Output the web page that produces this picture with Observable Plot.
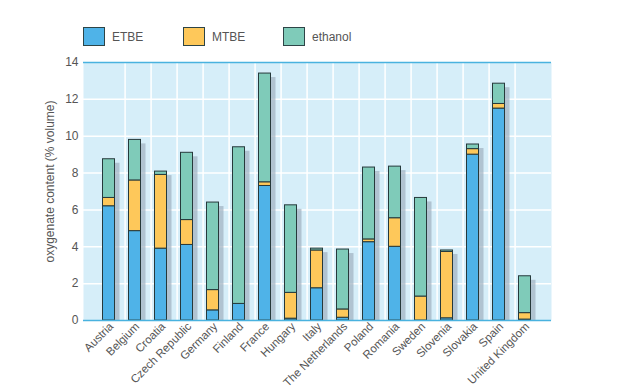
<!DOCTYPE html>
<html><head><meta charset="utf-8">
<script src="https://cdn.jsdelivr.net/npm/d3@7"></script>
<script src="https://cdn.jsdelivr.net/npm/@observablehq/plot@0.6"></script>
<style>
body{margin:0;background:#fff;font-family:"Liberation Sans",Arial,sans-serif;}
#legend{position:relative;height:52px;width:644px;}
.item{position:absolute;top:27px;height:19px;display:flex;align-items:center;font-size:12px;color:#555;}
.sw{width:22px;height:19px;border:1px solid #2d4446;margin-right:7px;box-sizing:border-box}
#chart svg{display:block;overflow:visible}
</style></head>
<body>
<div id="legend"></div>
<div id="chart"></div>
<script>
const countries = ["Austria","Belgium","Croatia","Czech Republic","Germany","Finland","France","Hungary","Italy","The Netherlands","Poland","Romania","Sweden","Slovenia","Slovakia","Spain","United Kingdom"];
const etbe    = [6.2, 4.85, 3.9, 4.1, 0.55, 0.9, 7.3, 0.1, 1.75, 0.15, 4.25, 4.0, 0.0, 0.12, 9.0, 11.5, 0.05];
const mtbe    = [0.45, 2.75, 4.0, 1.35, 1.1, 0.0, 0.2, 1.4, 2.05, 0.45, 0.15, 1.55, 1.3, 3.6, 0.3, 0.25, 0.35];
const ethanol = [2.1, 2.2, 0.18, 3.65, 4.75, 8.5, 5.9, 4.75, 0.1, 3.25, 3.9, 2.8, 5.35, 0.08, 0.25, 1.1, 2.0];
const seriesNames  = ["ETBE","MTBE","ethanol"];
const seriesColors = ["#4fb3e8","#fec85a","#7fcbb9"];
const yTicks = [0,2,4,6,8,10,12,14];
const yLabel = "oxygenate content (% volume)";

// legend
const legend = document.getElementById("legend");
seriesNames.forEach((name,i)=>{
  const it = document.createElement("div");
  it.className="item"; it.style.left=(83+i*100)+"px";
  const sw=document.createElement("span"); sw.className="sw"; sw.style.background=seriesColors[i];
  const tx=document.createElement("span"); tx.textContent=name;
  it.appendChild(sw); it.appendChild(tx); legend.appendChild(it);
});

const series = [etbe, mtbe, ethanol];
const rows = [];
countries.forEach((c,i)=>seriesNames.forEach((s,j)=>rows.push({country:c,type:s,value:series[j][i]})));
const totals = countries.map((c,i)=>({country:c,total:etbe[i]+mtbe[i]+ethanol[i]}));

const chart = Plot.plot({
  width:644, height:337,
  marginTop:10, marginBottom:69, marginLeft:83, marginRight:93,
  style:{fontFamily:"'Liberation Sans', Arial, sans-serif", fontSize:"12px", color:"#555", background:"white", overflow:"visible"},
  x:{domain:countries, padding:0.54, insetLeft:5, insetRight:2},
  y:{domain:[0,14]},
  color:{domain:seriesNames, range:seriesColors},
  marks:[
    Plot.frame({fill:"#d6eef9", stroke:null}),
    Plot.ruleY(yTicks.filter(t=>t>0&&t<14), {stroke:"white", strokeWidth:1.5}),
    Plot.ruleX(countries.slice(0,-1), {stroke:"white", strokeWidth:1.5, dx:13.6}),
    Plot.barY(totals, {x:"country", y:"total", fill:"#9fb1c0", fillOpacity:0.7, insetTop:4, dx:2.5}),
    Plot.barY(rows, {x:"country", y:"value", fill:"type", order:seriesNames, stroke:"#26393b", strokeWidth:1, dx:-2.5}),
    Plot.ruleY([0,14], {stroke:"#49b2df", strokeWidth:1.5}),
    Plot.axisY({ticks:yTicks, tickSize:0, tickPadding:5, label:null, fill:"#555", fontSize:12}),
    Plot.axisX({tickRotate:-45, tickSize:0, tickPadding:4, label:null, fill:"#555", fontSize:11.5}),
    Plot.text([yLabel], {text:d=>d, frameAnchor:"left", textAnchor:"middle", rotate:-90, dx:-33, dy:-10, fill:"#555", fontSize:12})
  ]
});
document.getElementById("chart").appendChild(chart);
</script>
</body></html>
